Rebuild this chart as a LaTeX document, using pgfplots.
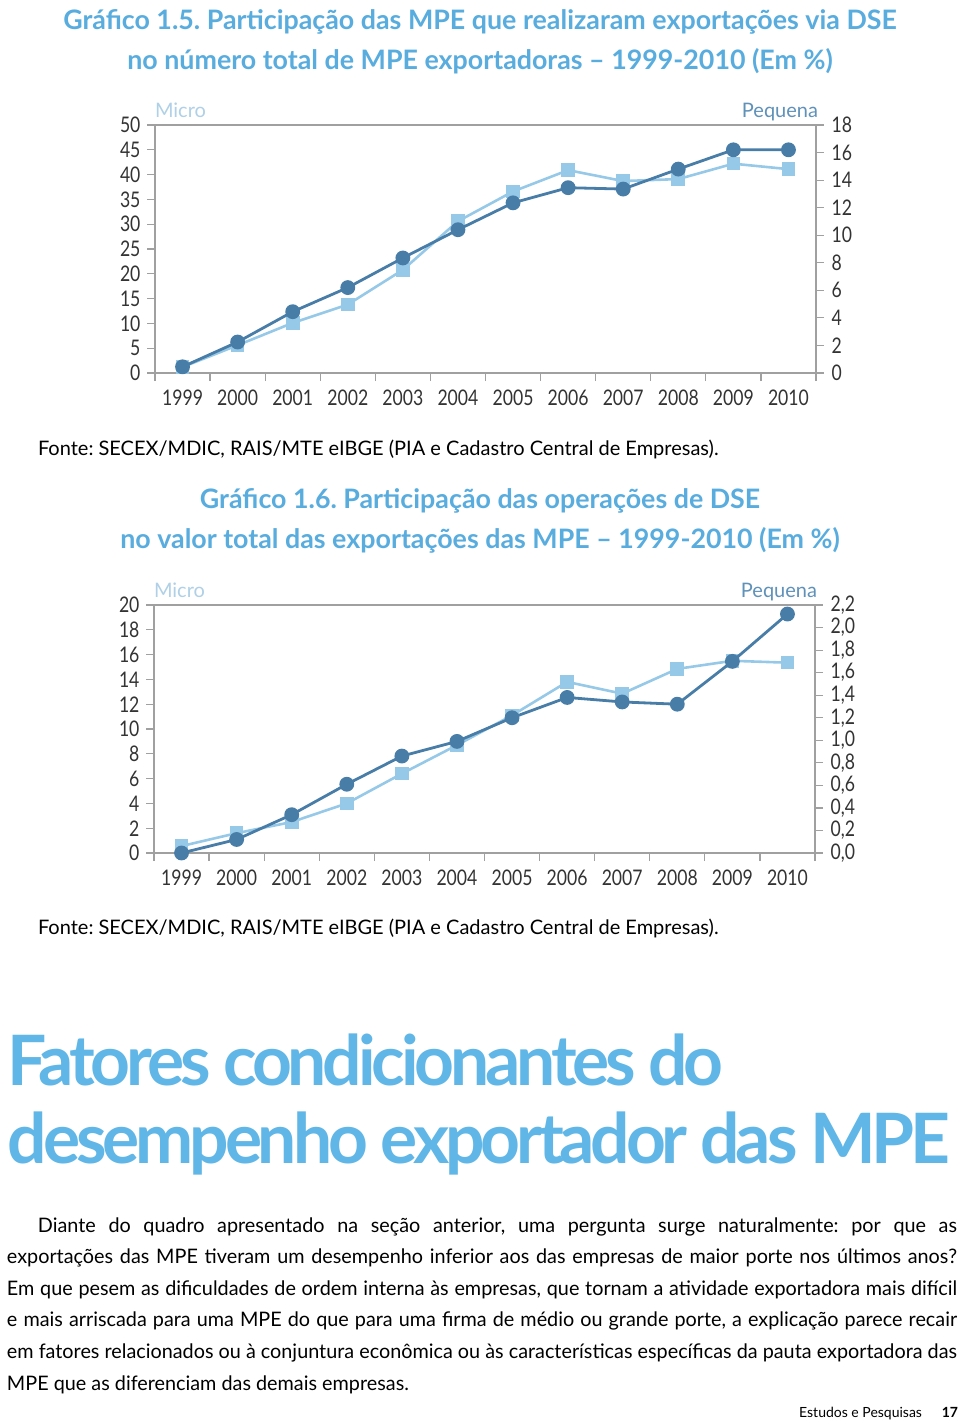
\documentclass[border=0pt]{standalone}
\usepackage{fontspec}
\setmainfont{Lato}
\usepackage{pgfplots}
\pgfplotsset{compat=1.18}
\newfontfamily\tickf[FakeStretch=0.82]{Lato}
\newfontfamily\headf[LetterSpace=-6]{Lato}
\newfontfamily\bodyf[FakeStretch=0.99]{Lato}
\definecolor{ttl}{RGB}{88,172,222}
\definecolor{head}{RGB}{96,182,230}
\definecolor{dark}{RGB}{72,125,168}
\definecolor{light}{RGB}{150,200,232}
\definecolor{axg}{RGB}{160,160,160}
\definecolor{microc}{RGB}{175,208,230}
\definecolor{peqc}{RGB}{95,145,185}
\pgfplotsset{
 mybase/.style={
  scale only axis, width=661pt, height=248pt,
  xmin=-0.5, xmax=11.5, ymin=0,
  anchor=south west, clip=false,
  axis line style={axg, line width=1.3pt},
  tick style={axg, line width=1.2pt},
  major tick length=8pt,
  tick align=outside,
  ticklabel style={font=\tickf\fontsize{21.5}{21.5}\selectfont, text=black!80},
  /pgf/number format/assume math mode=true,
 },
 leftax/.style={mybase, ytick pos=left,
  xtick={-0.5,0.5,...,11.5},
  xticklabels={1999,2000,2001,2002,2003,2004,2005,2006,2007,2008,2009,2010},
  x tick label as interval, xtick pos=bottom,
  xticklabel style={yshift=-5pt},
  yticklabel style={xshift=-3pt}},
 rightax/.style={mybase, hide x axis, axis y line*=right,
  yticklabel style={xshift=4pt}},
 lightp/.style={color=light, line width=2.6pt, mark=square*, mark size=5.5pt, mark options={fill=light, draw=light}},
 darkp/.style={color=dark, line width=2.8pt, mark=*, mark size=6pt, mark options={fill=dark, draw=dark}},
}
\tikzset{txt/.style={inner sep=0pt, outer sep=0pt}}
\begin{document}
\frenchspacing
\begin{tikzpicture}[x=1pt,y=1pt]
\useasboundingbox (0pt,0pt) rectangle (960pt,-1422pt);
% ---------- Chart 1 titles
\node[txt, anchor=base, text=ttl, font=\bfseries\fontsize{26.8}{30}\selectfont] at (480pt,-29pt) {Gráfico 1.5. Participação das MPE que realizaram exportações via DSE};
\node[txt, anchor=base, text=ttl, font=\bfseries\fontsize{26.8}{30}\selectfont] at (480pt,-69pt) {no número total de MPE exportadoras – 1999-2010 (Em \%)};
% ---------- Chart 1
\begin{axis}[leftax, at={(155pt,-373pt)}, ymax=50, ytick={0,5,...,50}]
\addplot[lightp] coordinates {(0,1.2) (1,5.6) (2,10.1) (3,13.8) (4,20.8) (5,30.6) (6,36.6) (7,40.9) (8,38.7) (9,39.1) (10,42.2) (11,41.1)};
\end{axis}
\begin{axis}[rightax, at={(155pt,-373pt)}, ymax=18, ytick={0,2,...,18}]
\addplot[darkp] coordinates {(0,0.45) (1,2.25) (2,4.45) (3,6.2) (4,8.35) (5,10.4) (6,12.35) (7,13.45) (8,13.35) (9,14.8) (10,16.2) (11,16.2)};
\end{axis}
\node[txt, anchor=base west, text=microc, font=\fontsize{20}{20}\selectfont] at (155pt,-117pt) {Micro};
\node[txt, anchor=base east, text=peqc, font=\fontsize{20}{20}\selectfont] at (818pt,-117pt) {Pequena};
\node[txt, anchor=base west, font=\fontsize{20}{24}\selectfont] at (38pt,-455pt) {Fonte: SECEX/MDIC, RAIS/MTE eIBGE (PIA e Cadastro Central de Empresas).};
% ---------- Chart 2 titles
\node[txt, anchor=base, text=ttl, font=\bfseries\fontsize{26.8}{30}\selectfont] at (480pt,-508pt) {Gráfico 1.6. Participação das operações de DSE};
\node[txt, anchor=base, text=ttl, font=\bfseries\fontsize{26.8}{30}\selectfont] at (480pt,-548pt) {no valor total das exportações das MPE – 1999-2010 (Em \%)};
% ---------- Chart 2
\begin{axis}[leftax, at={(154pt,-853pt)}, ymax=20, ytick={0,2,...,20}]
\addplot[lightp] coordinates {(0,0.56) (1,1.6) (2,2.5) (3,4.0) (4,6.4) (5,8.7) (6,11.1) (7,13.8) (8,12.85) (9,14.85) (10,15.5) (11,15.35)};
\end{axis}
\begin{axis}[rightax, at={(154pt,-853pt)}, ymax=2.2, ytick={0,0.2,...,2.2},
  yticklabel style={/pgf/number format/.cd, fixed, fixed zerofill, precision=1, use comma}]
\addplot[darkp] coordinates {(0,0.0) (1,0.12) (2,0.34) (3,0.61) (4,0.86) (5,0.99) (6,1.2) (7,1.38) (8,1.34) (9,1.32) (10,1.7) (11,2.12)};
\end{axis}
\node[txt, anchor=base west, text=microc, font=\fontsize{20}{20}\selectfont] at (154pt,-597pt) {Micro};
\node[txt, anchor=base east, text=peqc, font=\fontsize{20}{20}\selectfont] at (817pt,-597pt) {Pequena};
\node[txt, anchor=base west, font=\fontsize{20}{24}\selectfont] at (38pt,-934pt) {Fonte: SECEX/MDIC, RAIS/MTE eIBGE (PIA e Cadastro Central de Empresas).};
% ---------- Heading
\node[txt, anchor=base west, text=head, font=\headf\bfseries\fontsize{69.5}{70}\selectfont] at (8pt,-1085pt) {Fatores condicionantes do};
\node[txt, anchor=base west, text=head, font=\headf\bfseries\fontsize{69.5}{70}\selectfont] at (8pt,-1163pt) {desempenho exportador das MPE};
% ---------- Paragraph
\node[txt, anchor=base west, text width=950pt, align=justify, font=\bodyf\fontsize{20}{31.6}\selectfont] at (7pt,-1232pt) {\hspace*{31pt}Diante do quadro apresentado na seção anterior, uma pergunta surge naturalmente: por que as\linebreak exportações das MPE tiveram um desempenho inferior aos das empresas de maior porte nos últimos anos?\linebreak Em que pesem as dificuldades de ordem interna às empresas, que tornam a atividade exportadora mais difícil\linebreak e mais arriscada para uma MPE do que para uma firma de médio ou grande porte, a explicação parece recair\linebreak em fatores relacionados ou à conjuntura econômica ou às características específicas da pauta exportadora das\linebreak MPE que as diferenciam das demais empresas.};
% ---------- Footer
\node[txt, anchor=base east, font=\fontsize{14}{14}\selectfont] at (922pt,-1417pt) {Estudos e Pesquisas};
\node[txt, anchor=base east, font=\bfseries\fontsize{14}{14}\selectfont] at (958pt,-1417pt) {17};
\end{tikzpicture}
\end{document}
